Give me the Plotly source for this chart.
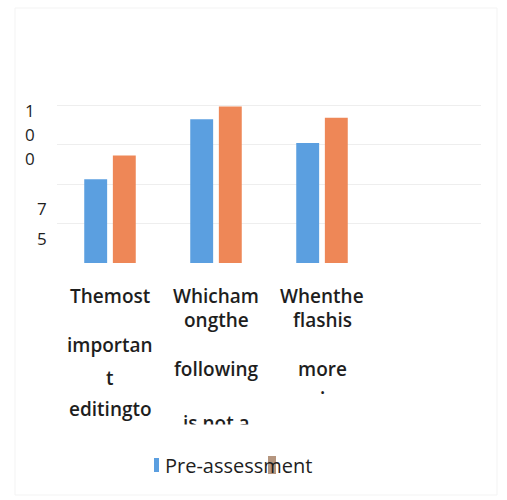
import plotly.graph_objects as go

# ---- data ----
categories = ["Q1", "Q2", "Q3", "Q4"]
pre_values = [53, 91, 76, None]
post_values = [68, 99, 92, None]

# wrapped x tick label lines per category (as they appear)
xlabel_lines = [
    ["Themost", "importan", "t", "editingto"],
    ["Whicham", "ongthe", "following", "is not a"],
    ["Whenthe", "flashis", "more", "·"],
]
ytick_lines = ["1", "0", "0", "7", "5"]
legend_text = "Pre-assessment"

W, H = 507, 500
PLOT_TOP, PLOT_BOTTOM = 102, 263
PLOT_LEFT, PLOT_RIGHT = 57, 481
Y_MAX = 100 * (PLOT_BOTTOM - PLOT_TOP) / (PLOT_BOTTOM - 105)

def py(p):
    return (PLOT_BOTTOM - p) / (PLOT_BOTTOM - PLOT_TOP)

def px(p):
    return (p - PLOT_LEFT) / (PLOT_RIGHT - PLOT_LEFT)

BLUE = "#5b9fe0"
ORANGE = "#ee8757"
FONT = "Open Sans"

fig = go.Figure()
fig.add_trace(go.Bar(x=categories, y=pre_values, marker_color=BLUE,
                     marker_line_width=0, name="Pre-assessment"))
fig.add_trace(go.Bar(x=categories, y=post_values, marker_color=ORANGE,
                     marker_line_width=0, name="Post-assessment"))

annotations = []
# x label lines: pixel y for each line of each column
xline_y = [
    [296, 345, 378, 409],
    [296, 320, 369, 423],
    [296, 320, 369, 393],
]
for ci, lines in enumerate(xlabel_lines):
    for li, txt in enumerate(lines):
        annotations.append(dict(
            x=categories[ci], xref="x", y=py(xline_y[ci][li]), yref="paper",
            text=txt, showarrow=False, xanchor="center", yanchor="middle",
            font=dict(family=FONT, size=19, color="#1e1e1e", weight=600)))
# white cover clipping the last line of column 2
annotations.append(dict(
    x=categories[1], xref="x", y=py(424), yref="paper", yanchor="top",
    text=" ", showarrow=False, bgcolor="white", width=100, height=20,
    borderpad=0))

# y tick characters
ytick_pos = [(30, 110), (30, 134), (30, 158), (42, 208), (42, 238)]
for (xp, ypix), ch in zip(ytick_pos, ytick_lines):
    annotations.append(dict(
        x=px(xp), xref="paper", y=py(ypix), yref="paper", text=ch,
        showarrow=False, xanchor="center", yanchor="middle",
        font=dict(family=FONT, size=17, color="#1e1e1e", weight=500)))

# legend text
annotations.append(dict(
    x=px(163), xref="paper", y=py(465), yref="paper", text=legend_text,
    showarrow=False, xanchor="left", yanchor="middle",
    font=dict(family=FONT, size=20, color="#1e1e1e", weight=500)))

shapes = [
    dict(type="rect", xref="paper", yref="paper",
         x0=px(154), x1=px(159), y0=py(472), y1=py(458),
         fillcolor=BLUE, line_width=0),
    dict(type="rect", xref="paper", yref="paper",
         x0=px(268), x1=px(276), y0=py(474), y1=py(456),
         fillcolor="#a88468", line_width=0, layer="above", opacity=0.85),
    dict(type="rect", xref="paper", yref="paper",
         x0=px(15), x1=px(497), y0=py(495), y1=py(8),
         line=dict(color="#f3f3f3", width=1), fillcolor="rgba(0,0,0,0)",
         layer="below"),
]

fig.update_layout(
    width=W, height=H,
    margin=dict(l=PLOT_LEFT, r=W - PLOT_RIGHT, t=PLOT_TOP, b=H - PLOT_BOTTOM),
    paper_bgcolor="white", plot_bgcolor="white",
    barmode="group", bargap=0.46, bargroupgap=0.2,
    showlegend=False,
    annotations=annotations, shapes=shapes,
    xaxis=dict(showticklabels=False, showgrid=False, zeroline=False,
               showline=False, ticks="", range=[-0.5, 3.5]),
    yaxis=dict(range=[0, Y_MAX], tickvals=[0, 25, 50, 75, 100],
               showticklabels=False,
               gridcolor="#eeeeee", gridwidth=1, zeroline=False,
               showline=False, ticks=""),
)

fig.write_html("out.html",
               config={"displayModeBar": False},
               post_script="document.body.style.margin='0';"
                           "document.body.style.overflow='hidden';")
